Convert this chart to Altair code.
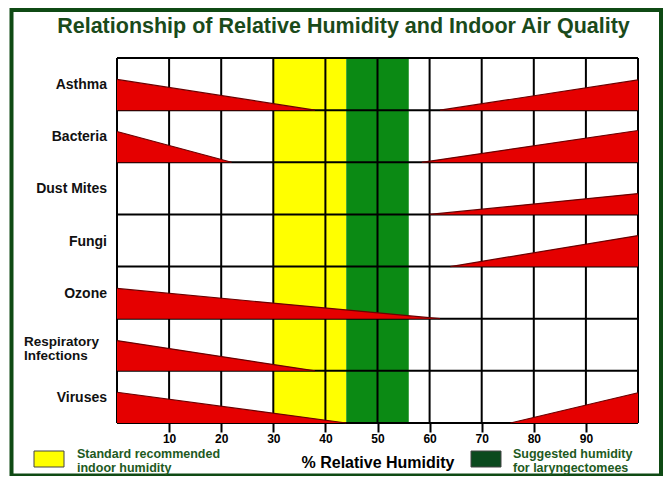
import altair as alt
import pandas as pd

# ---------------- data ----------------
categories = ["Asthma", "Bacteria", "Dust Mites", "Fungi", "Ozone",
              "Respiratory\nInfections", "Viruses"]
# left wedge: height (fraction of row) at 0 %, humidity where it ends
left_height = [0.59, 0.59, 0.0, 0.0, 0.58, 0.58, 0.59]
left_end = [38, 22, None, None, 62, 38, 44]
# right wedge: humidity where it starts, height (fraction of row) at 100 %
right_start = [62, 58.5, 60, 64, None, None, 75.5]
right_height = [0.58, 0.61, 0.40, 0.595, 0.0, 0.0, 0.58]

band_names = ["Standard recommended\nindoor humidity",
              "Suggested humidity\nfor laryngectomees"]
band_start = [30, 44]
band_end = [44, 56]
band_colors = ["#ffff00", "#0b8a14"]
legend_colors = ["#ffff00", "#0b4a1e"]

x_ticks = [10, 20, 30, 40, 50, 60, 70, 80, 90]
grid_x = [0, 10, 20, 30, 40, 50, 60, 70, 80, 90, 100]
title_text = "Relationship of Relative Humidity and Indoor Air Quality"
x_title = "% Relative Humidity"

FONT = "Liberation Sans"
W, H = 521, 365
n = len(categories)

# ---------------- tables ----------------
rows = []
for i, c in enumerate(categories):
    base = n - 1 - i
    if left_end[i] is not None:
        rows.append(dict(tri=f"L{i}", x=0, y=base + left_height[i], y2=base))
        rows.append(dict(tri=f"L{i}", x=left_end[i], y=base, y2=base))
    if right_start[i] is not None:
        rows.append(dict(tri=f"R{i}", x=right_start[i], y=base, y2=base))
        rows.append(dict(tri=f"R{i}", x=100, y=base + right_height[i], y2=base))
tri_df = pd.DataFrame(rows)

bands_df = pd.DataFrame({"name": band_names, "x": band_start, "x2": band_end,
                         "color": band_colors, "y0": [0] * 2, "y1": [n] * 2})
vgrid_df = pd.DataFrame({"gx": grid_x})
hgrid_df = pd.DataFrame({"gy": list(range(n + 1))})
lab_df = pd.DataFrame({"label": categories,
                       "yc": [n - 1 - i + 0.5 for i in range(n)]})
lab_df["multi"] = lab_df["label"].str.contains("\n")

xs = alt.Scale(domain=[0, 100], nice=False, zero=False)
ys = alt.Scale(domain=[0, n], nice=False, zero=False)
xaxis = alt.Axis(values=x_ticks, title=x_title, grid=False, domain=False,
                 tickColor="black", tickWidth=2, tickSize=9,
                 labelFont=FONT, labelFontWeight="bold", labelFontSize=12,
                 labelColor="black", labelPadding=1, labelFlush=False,
                 titleFont=FONT, titleFontSize=16, titleFontWeight="bold",
                 titleColor="black", titlePadding=10)


def X(f):
    return alt.X(f, type="quantitative", scale=xs, axis=xaxis)


def Y(f):
    return alt.Y(f, type="quantitative", scale=ys, axis=None)


bands = alt.Chart(bands_df).mark_rect().encode(
    x=X("x"), x2="x2", y=Y("y0"), y2="y1",
    color=alt.Color("color:N", scale=None))

vgrid = alt.Chart(vgrid_df).mark_rule(color="black", strokeWidth=2).encode(x=X("gx"))
hgrid = alt.Chart(hgrid_df).mark_rule(color="black", strokeWidth=2).encode(y=Y("gy"))

wedges = alt.Chart(tri_df).mark_area(
    color="#e50000", opacity=1,
    line={"color": "#6a0000", "strokeWidth": 1.2}
).encode(x=X("x"), y=Y("y"), y2="y2", detail="tri:N")

labels_single = alt.Chart(lab_df[~lab_df["multi"]]).mark_text(
    align="right", baseline="middle", font=FONT, fontSize=14,
    fontWeight="bold", color="#111111", dy=1
).encode(x=alt.value(-10), y=Y("yc"), text="label:N")

labels_multi = alt.Chart(lab_df[lab_df["multi"]]).mark_text(
    align="left", baseline="middle", font=FONT, fontSize=13.5,
    fontWeight="bold", color="#111111", lineBreak="\n", lineHeight=14.5, dy=-3
).encode(x=alt.value(-93), y=Y("yc"), text="label:N")

title = alt.Chart(pd.DataFrame({"t": [title_text]})).mark_text(
    align="center", baseline="alphabetic", font=FONT, fontSize=21.5,
    fontWeight="bold", color="#1a4a1a"
).encode(x=alt.value(226.5), y=alt.value(-25), text="t:N")

frame = alt.Chart(pd.DataFrame({"k": [0]})).mark_rect(
    filled=False, stroke="#0f4a14", strokeWidth=4
).encode(x=alt.value(-105.5), x2=alt.value(544), y=alt.value(-48), y2=alt.value(417.5))

leg_layers = []
for j, (nm, col) in enumerate(zip(band_names, legend_colors)):
    one = pd.DataFrame({"name": [nm], "color": [col]})
    sx = [-83, 354][j]
    tx = [-40, 396][j]
    leg_layers.append(alt.Chart(one).mark_rect(stroke="#444444", strokeWidth=1).encode(
        x=alt.value(sx), x2=alt.value(sx + 30), y=alt.value(393), y2=alt.value(409),
        color=alt.Color("color:N", scale=None)))
    leg_layers.append(alt.Chart(one).mark_text(
        align="left", baseline="alphabetic", font=FONT, fontSize=12.5,
        fontWeight="bold", color="#1e5a1e", lineBreak="\n", lineHeight=14.5
    ).encode(x=alt.value(tx), y=alt.value(399.5), text="name:N"))

chart = alt.layer(bands, vgrid, hgrid, wedges, labels_single, labels_multi,
                  title, frame, *leg_layers).properties(
    width=W, height=H,
    padding={"left": 109, "top": 50, "right": 25, "bottom": 53},
    autosize=alt.AutoSizeParams(type="none"),
    background="white",
).configure_view(stroke="transparent")

chart.save("out.html", embed_options={"renderer": "svg", "actions": False})
